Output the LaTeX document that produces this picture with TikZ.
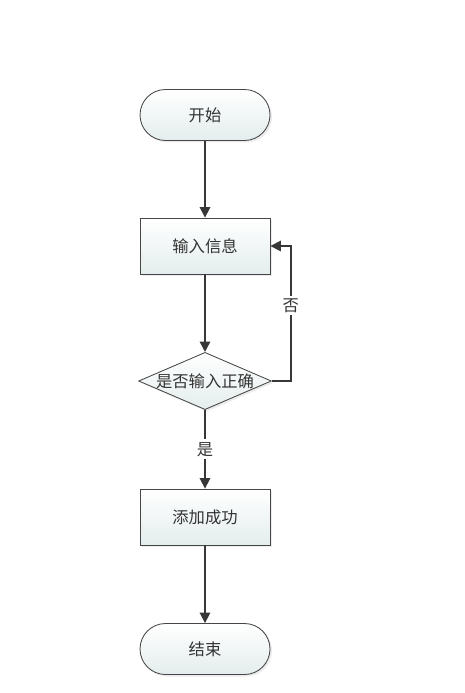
\documentclass[tikz,border=0pt]{standalone}
\usepackage{fontspec}
\newfontfamily\cjk{Noto Sans CJK SC}
\usepackage{xcolor}
\usetikzlibrary{arrows.meta}
\usetikzlibrary{shapes.geometric}
\usetikzlibrary{shadows}

\definecolor{edgegray}{RGB}{70,70,70}
\definecolor{linegray}{RGB}{55,55,55}
\definecolor{boxbottom}{RGB}{228,237,237}

\begin{document}
\begin{tikzpicture}[
    every node/.style={font=\cjk\fontsize{11.6}{14}\selectfont, text=black!80},
    box/.style={draw=edgegray, line width=0.6pt, top color=white, bottom color=boxbottom,
      drop shadow={opacity=0.15, shadow xshift=0.5mm, shadow yshift=-0.5mm}},
    terminal/.style={box, rectangle, rounded corners=0.6375cm, minimum width=3.25cm, minimum height=1.275cm},
    process/.style={box, rectangle, minimum width=3.25cm, minimum height=1.4cm},
    decision/.style={box, diamond, aspect=2.32, inner sep=0pt, minimum width=3.25cm, minimum height=1.4cm},
    flow/.style={draw=linegray, line width=1.2pt, -{Triangle[length=2.6mm, width=2.6mm]}}
  ]
  \fill[white] (0,0) rectangle (11.6,-17.325);
  \useasboundingbox (0,0) rectangle (11.6,-17.325);

  \node[terminal] (start) at (5.125,-2.875) {开始};
  \node[process] (input) at (5.125,-6.15) {输入信息};
  \node[decision] (check) at (5.125,-9.525) {是否输入正确};
  \node[process] (ok) at (5.125,-12.925) {添加成功};
  \node[terminal] (stop) at (5.125,-16.225) {结束};

  \draw[flow] (start) -- (input);
  \draw[flow] (input) -- (check);
  \draw[flow] (check) -- node[fill=white, inner sep=2pt] {是} (ok);
  \draw[flow] (ok) -- (stop);
  \coordinate (turn) at ([xshift=0.475cm]check.east);
  \draw[flow] (check.east) -- (turn) |- node[pos=0.28, fill=white, inner sep=2pt] {否} (input.east);
\end{tikzpicture}
\end{document}
